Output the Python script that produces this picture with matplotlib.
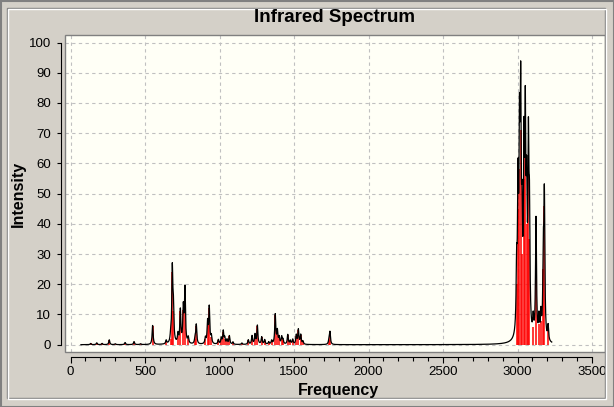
import numpy as np
import matplotlib
matplotlib.use("Agg")
import matplotlib.pyplot as plt
from matplotlib.patches import Rectangle
from matplotlib.ticker import MultipleLocator

# =========================================================
# DADOS (frequencias em cm-1, intensidades)
# =========================================================
freq_baixa = [135, 176, 212, 260, 300, 366, 426, 470, 551, 642, 672, 683, 690,
              721, 737, 757, 768, 790, 836, 844, 905, 920, 931, 945, 992, 1012,
              1025, 1035, 1050, 1066, 1090, 1150, 1193, 1218, 1238, 1254, 1283,
              1303, 1330, 1350, 1374, 1388, 1400, 1417, 1426, 1458, 1475, 1491,
              1515, 1529, 1545, 1560, 1735, 1741]
int_baixa = [0.4, 0.6, 0.4, 1.6, 0.3, 0.7, 1.0, 0.3, 6.3, 1.2, 2.0, 24.0, 11.0,
             3.0, 11.0, 11.5, 18.0, 2.0, 2.0, 6.3, 2.0, 7.0, 12.0, 2.5, 1.5, 2.0,
             4.3, 2.0, 1.5, 2.8, 0.8, 0.5, 1.5, 2.8, 3.2, 6.2, 2.4,
             1.5, 0.8, 1.2, 9.8, 4.3, 2.2, 2.4, 1.5, 3.2, 1.2, 1.6,
             3.0, 4.8, 3.1, 1.0, 1.5, 4.0]

freq_alta = [2994, 3003, 3013, 3021, 3030, 3043, 3052, 3061, 3073, 3080, 3105,
             3124, 3144, 3157, 3173, 3180, 3205]
int_alta = [20, 45, 58, 71, 30, 55, 64, 40, 58, 35, 6,
            40, 7, 8, 25, 46, 5]

# largura (meia altura) do alargamento lorentziano, cm-1
hwhm = 4.0
faixa = (70, 3230)

freqs = np.array(freq_baixa + freq_alta, dtype=float)
intens = np.array(int_baixa + int_alta, dtype=float)

x = np.arange(faixa[0], faixa[1], 0.5)
espectro = np.zeros_like(x)
for f0, i0 in zip(freqs, intens):
    espectro += i0 * hwhm**2 / ((x - f0)**2 + hwhm**2)

# =========================================================
# FIGURA
# =========================================================
W, H = 614, 407
fig = plt.figure(figsize=(W / 100, H / 100), dpi=100, facecolor="#d4d0c8")

ax = fig.add_axes([65 / W, 1 - 352 / H, 540 / W, 317 / H])
ax.set_facecolor("#fffff6")

ax.vlines(freqs, 0, intens, color="#ff0000", lw=1.1, zorder=2)
ax.plot(x, espectro, color="black", lw=0.9, zorder=3)

ax.set_xlim(-37, 3587)
ax.set_ylim(-2.42, 102.5)

ax.set_xticks(np.arange(0, 3501, 500))
ax.set_yticks(np.arange(0, 101, 10))
ax.xaxis.set_minor_locator(MultipleLocator(100))

ax.grid(True, color="#c0c0c0", linestyle=(0, (3, 3)), lw=0.8, zorder=1)

for lado in ["top", "right"]:
    ax.spines[lado].set_visible(False)
ax.spines["left"].set_position(("outward", 2.9))
ax.spines["left"].set_bounds(0, 100)
ax.spines["bottom"].set_position(("outward", 3.6))
ax.spines["bottom"].set_bounds(0, 3500)
for lado in ["left", "bottom"]:
    ax.spines[lado].set_color("black")
    ax.spines[lado].set_linewidth(0.8)

ax.add_patch(Rectangle((0, 0), 1, 1, transform=ax.transAxes, fill=False,
                       edgecolor="#808080", lw=1, clip_on=False, zorder=5))

ax.tick_params(axis="y", length=2.9, width=0.8, pad=4.3, labelsize=9.5)
ax.tick_params(axis="x", which="major", length=4.3, width=0.8, pad=2.5, labelsize=9.5)
ax.tick_params(axis="x", which="minor", length=2.6, width=0.8)
for rot in ax.get_xticklabels() + ax.get_yticklabels():
    rot.set_family("Liberation Sans")

fig.text(335 / W, 1 - 18 / H, "Infrared Spectrum", ha="center", va="center",
         fontsize=13.5, fontweight="bold", family="Liberation Sans")
fig.text(338 / W, 1 - 390 / H, "Frequency", ha="center", va="center",
         fontsize=11.5, fontweight="bold", family="Liberation Sans")
fig.text(18 / W, 1 - 194 / H, "Intensity", ha="center", va="center",
         rotation=90, fontsize=11.5, fontweight="bold", family="Liberation Sans")

# moldura estilo janela
fig.add_artist(Rectangle((7 / W, 1 - 398 / H), 598 / W, 390 / H,
                         transform=fig.transFigure, fill=False,
                         edgecolor="#808080", lw=1))
fig.add_artist(Rectangle((8 / W, 1 - 399 / H), 598 / W, 390 / H,
                         transform=fig.transFigure, fill=False,
                         edgecolor="white", lw=1))
fig.add_artist(Rectangle((0.5 / W, 0.5 / H), (W - 1) / W, (H - 1) / H,
                         transform=fig.transFigure, fill=False,
                         edgecolor="#808080", lw=1.5))

fig.savefig("out.png", dpi=100, facecolor=fig.get_facecolor())
